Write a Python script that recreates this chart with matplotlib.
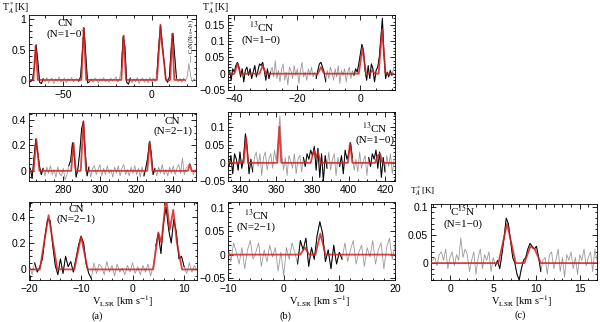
import numpy as np
import matplotlib
matplotlib.use('Agg')
import matplotlib.pyplot as plt
from matplotlib.ticker import MultipleLocator, FuncFormatter

plt.rcParams['mathtext.fontset'] = 'stix'
plt.rcParams['font.family'] = ['Liberation Serif', 'DejaVu Serif']

# spectra: first channel velocity, channel width, intensities
# (a) CN N=1-0, units 0.01 K
a1_v0, a1_dv = -69, 1.0
a1_T = [2, -3, 1, 20, 58, 30, -4, -6, 2, -3, 4, -5, 1, 3, -6, 2, -2, 5, -4, 0,
        3, -5, 2, -1, 4, -3, 1, 2, -2, 5, 45, 85, 40, -5, -3, 2, -4, 3, 1, -5,
        2, -2, 4, -3, 1, -4, 3, -2, 1, 5, -3, 2, 20, 72, 55, -4, -7, 3, -5, 2,
        -3, 4, -6, 1, 3, -4, 2, -5, 4, -2, 3, -3, 10, 55, 90, 60, 30, 2, -4, 5,
        50, 77, 40, 3, -3, 2, -4, 3, -2, 5, 27, 6, -3, 2, -2]
a1_fit_v = [-69, -66.5, -65.3, -64, -39.5, -38.2, -36.8, -17, -15.7, -14.4, 3, 4.3, 5, 5.8, 7.2, 8, 10.5, 11.6, 12.8, 18.5]
a1_fit_T = [0, 0, 0.56, 0, 0, 0.86, 0, 0, 0.73, 0, 0, 0.55, 0.91, 0.6, 0.25, 0, 0, 0.76, 0, 0]
a1_black = [(-69, -61), (-41, -35), (-17.5, -12), (2.5, 14.5)]

# (a) CN N=2-1 (high velocity window), units 0.01 K
a2_v0, a2_dv = 262, 1.0
a2_T = [2, -6, 10, 25, 15, 4, -3, 2, -4, 3, -2, 4, -3, 1, -5, 3, -2, -4, 2, -7,
        -3, 4, 8, 22, 12, -5, 2, 15, 33, 39, 14, -4, 3, -5, 2, 4, -3, 1, 5, -4,
        2, -3, 4, -2, 1, -5, 3, -2, 4, -4, 2, 5, -3, 1, -4, 3, -2, 4, -3, 2,
        -5, 3, -4, 2, 10, 23, 14, -3, 2, -4, 3, -2, 5, -3, 1, -4, 3, -2, 4, -3,
        2, 5, -2, 10, -3, 2, 4, 6, 2, -3, 1]
a2_fit_v = [261.3, 263.8, 265.3, 267, 284.3, 285.6, 286.8, 289.5, 291, 292.4, 325.8, 327.2, 328.6, 348, 349, 350, 352.4]
a2_fit_T = [0, 0, 0.25, 0, 0, 0.22, 0, 0, 0.39, 0, 0, 0.23, 0, 0, 0.05, 0, 0]
a2_black = [(262, 269.5), (282.5, 294), (324, 330.5)]

# (a) CN N=2-1, units 0.01 K
a3_v0, a3_dv = -20, 0.5
a3_T = [3, -4, 5, -2, 2, 8, 25, 38, 37, 18, 3, -4, 8, -3, 10, 2, 6, -2, 8, 18,
        25, 20, 4, -3, -7, 5, -3, 4, 2, -4, 6, -2, 3, -5, 4, -2, 1, -4, 3, -2,
        5, -3, 2, -4, 3, -2, 4, -5, 3, 18, 27, 12, 35, 47, 30, 20, 38, 28, 8, 10,
        2, -3, 5, -2, 3, -1]
a3_fit_v = [-20.1, -18, -16.3, -14.6, -11.3, -10, -8.7, 4, 5, 5.6, 6.5, 7.2, 7.9, 8.6, 9.6, 12.5]
a3_fit_T = [0, 0, 0.41, 0, 0, 0.25, 0, 0, 0.28, 0.2, 0.55, 0.3, 0.45, 0.2, 0, 0]
a3_black = [(-19.3, -7.7), (4.4, 10)]

# (b) 13CN N=1-0, units mK
b1_v0, b1_dv = -41.5, 0.5
b1_T = [10, -20, 15, 5, 25, 35, 20, -10, 15, -25, 10, 20, -5, 15, -15, 5, 25, -10, 10, 30,
        25, 35, 10, -20, 15, -15, 5, 20, -10, 40, -15, 10, -25, 15, 30, -20, 5, -35, 20, 10,
        -15, 25, -5, 15, -30, 10, 35, -10, 5, -20, 15, -5, 20, -10, 5, -15, 10, 30, 35, 20,
        5, -25, 10, -15, 20, 5, -20, 15, -10, 25, -30, 10, -5, 15, -25, 5, 20, -15, 10, -5,
        15, 5, 30, 60, 90, 70, 10, -20, 25, -15, 30, 15, -25, 10, 20, 50, 110, 170, 60, -15,
        5, -10, 10, -5, 15]
b1_fit_v = [-41.5, -40, -39, -38, -32, -31, -30, -13.5, -12.5, -11.5, -0.5, 0.7, 1.8, 3, 3.8, 4.6, 5.8, 6.9, 8, 10.5]
b1_fit_T = [0, 0, 0.03, 0, 0, 0.025, 0, 0, 0.02, 0, 0, 0.08, 0, 0, 0.01, 0, 0, 0.135, 0, 0]
b1_black = [(-41.5, -28.5), (-14, -11), (-2, 10)]

# (b) 13CN N=1-0 (high velocity window), units mK
b2_v0, b2_dv = 334, 1.0
b2_T = [-10, 20, -30, 25, 10, -20, 30, -15, 15, 80, 40, -30, 10, -25, 15, 30, -10, 25, -35, 15,
        30, -20, 10, 25, -15, 35, 5, 60, 130, 30, -20, 15, -35, 20, 5, -15, 25, -30, 10, 20,
        -25, 15, -10, 25, 10, 35, 20, 45, -20, 40, -40, 25, -50, 20, -15, 30, -20, 10, 25, -35,
        15, -10, 20, -30, 35, 10, 25, 55, 15, -20, 10, -25, 30, -15, 5, 20, -35, 15, -10, 25,
        10, 35, -15, 30, -40, 15, -25, 20, -10, 25, -30, 10]
b2_fit_v = [333.4, 342, 343.4, 344.5, 360.6, 361.7, 362.8, 379, 380, 381, 382, 383, 384.5,
            399.5, 400.7, 402, 414.5, 416, 417.3, 418.5, 425.5]
b2_fit_T = [0, 0, 0.07, 0, 0, 0.1, 0, 0, 0.02, 0.035, 0.015, 0.03, 0, 0, 0.055, 0, 0, 0.02, 0.025, 0, 0]
b2_black = [(334, 347), (374.5, 388), (395, 402), (411, 420.5)]

# (b) 13CN N=2-1, units mK
b3_v0, b3_dv = -10, 0.5
b3_T = [20, -15, 25, 5, -20, 15, -30, 10, 30, -10, 5, 25, -25, 10, -15, 20, -5, 15, -35, 5,
        -45, 15, -10, 25, 5, -20, 30, 10, 35, -25, 15, -10, 40, 70, 45, -15, 10, -30, 20, -20,
        5, -10, 25, -15, 10, 30, -20, 5, 20, -25, 15, -5, 30, -20, 10, 25, -30, 15, 35, -10, 20]
b3_fit_v = [-10, 3, 3.8, 4.6, 5.7, 6.6, 7.5, 20]
b3_fit_T = [0, 0, 0.015, 0, 0, 0.045, 0, 0]
b3_black = [(2.4, 10.5)]

# (c) C15N N=1-0, units mK
c_v0, c_dv = -2, 0.25
c_T = [5, 10, -5, 15, 20, 5, 25, -10, 10, 20, -5, 15, 5, 45, 10, 25, 15, -15, 5, 20,
       -20, 10, 25, -10, 15, 5, 20, -15, 10, -5, 5, -10, 15, 45, 80, 70, 40, 10, 0, -20,
       -30, -10, 5, 10, 25, 35, 30, 25, 30, 10, -15, 5, 10, -20, 15, 20, -10, 5, 25, -15,
       10, -25, 15, 5, 20, -10, 10, -20, 15, 5, 25, -5, 10, 20, -15, 25, 5]
c_fit_v = [-2.2, 5.6, 6.6, 7.6, 8.6, 9.3, 9.8, 10.5, 17]
c_fit_T = [0, 0, 0.07, 0, 0, 0.03, 0.025, 0, 0]
c_black = [(5.1, 10.7)]

W, H = 600, 322
fig = plt.figure(figsize=(6, 3.22), dpi=100)


def make_ax(l, r, t, b):
    return fig.add_axes([l / W, 1 - b / H, (r - l) / W, (b - t) / H])


def fmt(v, p):
    s = '%g' % v
    if s in ('-0', '0'):
        return '0'
    return s.replace('-', '\u2212')


def spectrum(ax, v0, dv, T, scale, fit_v, fit_T, black, xlim, ylim, xmaj, xmin, ymaj, ymin):
    v = v0 + dv * np.arange(len(T))
    t = np.array(T) * scale
    ax.plot(v, t, color='#9a9a9a', lw=0.6)
    for lo, hi in black:
        m = (v >= lo) & (v <= hi)
        ax.plot(v[m], t[m], color='black', lw=0.7)
    ax.plot(fit_v, fit_T, color='#d42020', lw=1.3, alpha=0.85, zorder=5)
    ax.set_xlim(*xlim)
    ax.set_ylim(*ylim)
    ax.xaxis.set_major_locator(MultipleLocator(xmaj))
    ax.xaxis.set_minor_locator(MultipleLocator(xmin))
    ax.yaxis.set_major_locator(MultipleLocator(ymaj))
    ax.yaxis.set_minor_locator(MultipleLocator(ymin))
    ax.xaxis.set_major_formatter(FuncFormatter(fmt))
    ax.yaxis.set_major_formatter(FuncFormatter(fmt))
    ax.tick_params(which='both', direction='in', top=True, right=True, width=0.6)
    ax.tick_params(which='major', length=3.5, labelsize=7.5, pad=2)
    ax.tick_params(axis='x', which='major', pad=3)
    ax.tick_params(which='minor', length=1.8)
    for lab in ax.get_xticklabels() + ax.get_yticklabels():
        lab.set_family('Liberation Sans')
    for s in ax.spines.values():
        s.set_linewidth(0.6)


def label(ax, x, y, s):
    ax.text(x, y, s, transform=ax.transAxes, ha='center', va='center', fontsize=8, linespacing=1.15)


ax = make_ax(29, 196, 15, 86)
spectrum(ax, a1_v0, a1_dv, a1_T, 0.01, a1_fit_v, a1_fit_T, a1_black,
         (-69, 25), (-0.1, 1.07), 50, 10, 0.5, 0.1)
label(ax, 0.22, 0.8, 'CN\n(N=1\u22120)')
ax.text(22.3, 0.42, 'C$_3$N(N$_{10}$\u2212J$_{9}$)', rotation=90, fontsize=4.5, ha='center', va='bottom')
ax.plot([21.5, 21.5], [0.3, 0.4], color='#888888', lw=0.5)

ax = make_ax(29, 196, 113, 181)
spectrum(ax, a2_v0, a2_dv, a2_T, 0.01, a2_fit_v, a2_fit_T, a2_black,
         (261.3, 352.4), (-0.08, 0.455), 20, 5, 0.2, 0.05)
label(ax, 0.86, 0.8, 'CN\n(N=2\u22121)')

ax = make_ax(29, 197, 202, 280)
spectrum(ax, a3_v0, a3_dv, a3_T, 0.01, a3_fit_v, a3_fit_T, a3_black,
         (-20.1, 12.5), (-0.08, 0.51), 10, 2, 0.2, 0.05)
label(ax, 0.28, 0.84, 'CN\n(N=2\u22121)')

ax = make_ax(228, 395, 15, 90)
spectrum(ax, b1_v0, b1_dv, b1_T, 0.001, b1_fit_v, b1_fit_T, b1_black,
         (-42, 11), (-0.05, 0.18), 20, 5, 0.05, 0.01)
label(ax, 0.2, 0.77, '$^{13}$CN\n(N=1\u22120)')

ax = make_ax(228, 395, 112, 181)
spectrum(ax, b2_v0, b2_dv, b2_T, 0.001, b2_fit_v, b2_fit_T, b2_black,
         (333.4, 425.5), (-0.05, 0.14), 20, 5, 0.05, 0.01)
label(ax, 0.88, 0.7, '$^{13}$CN\n(N=1\u22120)')

ax = make_ax(228, 395, 202, 280)
spectrum(ax, b3_v0, b3_dv, b3_T, 0.001, b3_fit_v, b3_fit_T, b3_black,
         (-10, 20), (-0.054, 0.112), 10, 2, 0.05, 0.01)
label(ax, 0.17, 0.77, '$^{13}$CN\n(N=2\u22121)')

ax = make_ax(431, 597, 204, 280)
spectrum(ax, c_v0, c_dv, c_T, 0.001, c_fit_v, c_fit_T, c_black,
         (-2.2, 17), (-0.03, 0.105), 5, 1, 0.05, 0.01)
label(ax, 0.19, 0.84, 'C$^{15}$N\n(N=1\u22120)')

vlab = 'V$_{\\rm LSR}$ [km s$^{-1}$]'
fig.text(123 / W, 1 - 301 / H, vlab, fontsize=7.5, ha='center', va='center')
fig.text(320 / W, 1 - 301 / H, vlab, fontsize=7.5, ha='center', va='center')
fig.text(522 / W, 1 - 301 / H, vlab, fontsize=7.5, ha='center', va='center')

fig.text(2 / W, 1 - 8.5 / H, 'T$_A^*$[K]', fontsize=7, va='center')
fig.text(202 / W, 1 - 8.5 / H, 'T$_A^*$[K]', fontsize=7, va='center')
fig.text(410 / W, 1 - 191 / H, 'T$_A^*$[K]', fontsize=6.5, va='center')

fig.text(97 / W, 1 - 316 / H, '(a)', fontsize=7.5, ha='center', va='center')
fig.text(285 / W, 1 - 316 / H, '(b)', fontsize=7.5, ha='center', va='center')
fig.text(520 / W, 1 - 315 / H, '(c)', fontsize=7.5, ha='center', va='center')

fig.savefig('out.png', dpi=100)
